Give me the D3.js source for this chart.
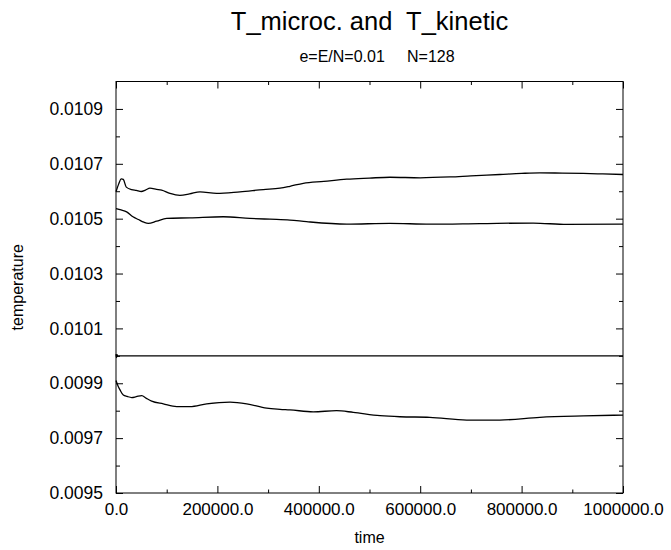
<!DOCTYPE html>
<html>
<head>
<meta charset="utf-8">
<script src="https://cdn.jsdelivr.net/npm/d3@7"></script>
<style>
  body { margin: 0; background: #fff; }
  svg { font-family: "Liberation Sans", Arial, sans-serif; }
</style>
</head>
<body>
<svg id="chart" width="671" height="550"></svg>
<script>
// top curve
const timeA = [0, 5000, 10500, 14400, 20300, 31000, 40000, 50000, 58000, 67000, 80000, 90000, 106500, 126000, 145000, 165700, 198600, 244600, 290500, 323500, 343000, 369400, 410000, 455000, 500000, 540400, 600000, 659000, 700000, 757000, 800000, 836000, 880000, 921700, 960000, 1000000];
const valA = [0.010598, 0.010625, 0.010645, 0.010643, 0.010615, 0.010606, 0.010603, 0.010599, 0.010604, 0.010611, 0.010607, 0.010604, 0.010592, 0.010585, 0.010590, 0.010598, 0.010592, 0.010598, 0.010606, 0.010611, 0.010618, 0.010629, 0.010636, 0.010644, 0.010648, 0.010651, 0.010649, 0.010652, 0.010656, 0.010661, 0.010665, 0.010667, 0.010666, 0.010665, 0.010663, 0.010661];

// second curve
const timeB = [0, 10000, 21000, 33500, 44000, 55000, 63700, 80200, 100000, 146000, 211600, 264000, 303700, 343000, 376000, 455000, 540000, 619000, 718000, 823000, 889000, 1000000];
const valB = [0.010537, 0.010532, 0.010525, 0.010507, 0.010497, 0.010487, 0.010483, 0.010491, 0.010501, 0.010503, 0.010507, 0.010501, 0.010498, 0.010495, 0.010489, 0.010480, 0.010483, 0.010480, 0.010482, 0.010484, 0.010479, 0.010480];

// flat line
const timeC = [0, 1000, 2000, 3500, 5000, 1000000];
const valC = [0.010006, 0.009994, 0.010004, 0.009998, 0.010000, 0.010000];

// bottom curve
const timeD = [0, 4000, 7900, 14400, 22000, 31000, 40000, 50700, 60000, 70400, 93300, 119700, 146000, 178900, 224900, 257800, 297200, 323500, 343000, 389000, 435000, 468000, 520700, 560000, 619000, 691700, 757000, 836000, 921700, 1000000];
const valD = [0.009910, 0.009890, 0.009876, 0.009857, 0.009852, 0.009848, 0.009851, 0.009855, 0.009845, 0.009835, 0.009825, 0.009815, 0.009815, 0.009825, 0.009831, 0.009825, 0.009809, 0.009805, 0.009803, 0.009796, 0.009800, 0.009794, 0.009782, 0.009778, 0.009776, 0.009766, 0.009766, 0.009776, 0.009781, 0.009784];

const xMajor = [0, 200000, 400000, 600000, 800000, 1000000];
const xMinor = [100000, 300000, 500000, 700000, 900000];
const yMajor = [0.0095, 0.0097, 0.0099, 0.0101, 0.0103, 0.0105, 0.0107, 0.0109];
const yMinor = [0.0096, 0.0098, 0.0100, 0.0102, 0.0104, 0.0106, 0.0108];

const title = 'T_microc. and  T_kinetic';
const subtitle = 'e=E/N=0.01     N=128';

const PLOT = {left: 116, right: 623, top: 81.5, bottom: 493};

const svg = d3.select('#chart');
const x = d3.scaleLinear().domain([0, 1000000]).range([PLOT.left, PLOT.right]);
const y = d3.scaleLinear().domain([0.0095, 0.0110]).range([PLOT.bottom, PLOT.top]);

// frame
svg.append('rect')
  .attr('x', PLOT.left).attr('y', PLOT.top)
  .attr('width', PLOT.right - PLOT.left).attr('height', PLOT.bottom - PLOT.top)
  .attr('fill', 'none').attr('stroke', '#000').attr('stroke-width', 1);

const drawAxis = (axis, tx, ty) => {
  const g = svg.append('g').attr('transform', `translate(${tx},${ty})`).call(axis);
  g.select('.domain').remove();
  g.selectAll('line').attr('stroke', '#000');
  return g;
};

// major ticks with labels
drawAxis(d3.axisBottom(x).tickValues(xMajor).tickSize(-7).tickPadding(10).tickFormat(d3.format('.1f')), 0, PLOT.bottom)
  .selectAll('text').attr('font-size', 17).attr('fill', '#000').attr('font-family', null);
drawAxis(d3.axisLeft(y).tickValues(yMajor).tickSize(-7).tickPadding(13).tickFormat(d3.format('.4f')), PLOT.left, 0)
  .selectAll('text').attr('font-size', 17.5).attr('fill', '#000').attr('font-family', null);

// remaining ticks on all sides
drawAxis(d3.axisTop(x).tickValues(xMajor).tickSize(-7).tickFormat(''), 0, PLOT.top);
drawAxis(d3.axisRight(y).tickValues(yMajor).tickSize(-7).tickFormat(''), PLOT.right, 0);
drawAxis(d3.axisBottom(x).tickValues(xMinor).tickSize(-3.5).tickFormat(''), 0, PLOT.bottom);
drawAxis(d3.axisTop(x).tickValues(xMinor).tickSize(-3.5).tickFormat(''), 0, PLOT.top);
drawAxis(d3.axisLeft(y).tickValues(yMinor).tickSize(-4).tickFormat(''), PLOT.left, 0);
drawAxis(d3.axisRight(y).tickValues(yMinor).tickSize(-4).tickFormat(''), PLOT.right, 0);

// curves
const line = d3.line()
  .x((d) => x(d[0]))
  .y((d) => y(d[1]))
  .curve(d3.curveMonotoneX);

[[timeA, valA], [timeB, valB], [timeC, valC], [timeD, valD]].forEach(([ts, vs]) => {
  svg.append('path')
    .datum(d3.zip(ts, vs))
    .attr('d', line)
    .attr('fill', 'none')
    .attr('stroke', '#000')
    .attr('stroke-width', 1.3);
});

// texts
svg.append('text')
  .attr('x', (PLOT.left + PLOT.right) / 2).attr('y', 30)
  .attr('text-anchor', 'middle').attr('font-size', 25.5)
  .style('white-space', 'pre')
  .text(title);

svg.append('text')
  .attr('x', 377).attr('y', 62)
  .attr('text-anchor', 'middle').attr('font-size', 16)
  .style('white-space', 'pre')
  .text(subtitle);

svg.append('text')
  .attr('x', (PLOT.left + PLOT.right) / 2).attr('y', 543)
  .attr('text-anchor', 'middle').attr('font-size', 16)
  .text('time');

svg.append('text')
  .attr('transform', `translate(23,${(PLOT.top + PLOT.bottom) / 2}) rotate(-90)`)
  .attr('text-anchor', 'middle').attr('font-size', 16)
  .text('temperature');
</script>
</body>
</html>
